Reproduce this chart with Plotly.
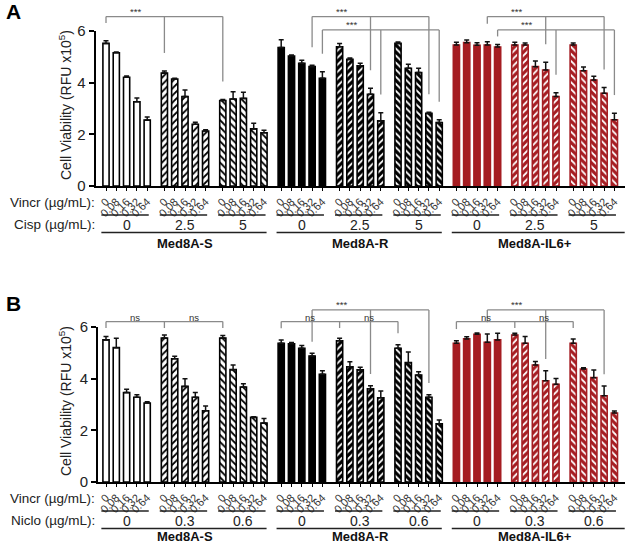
import plotly.graph_objects as go

W, H = 626, 545

# ---------------- data ----------------
vincr = ["0", "0.08", "0.16", "0.32", "0.64"]
cisp = ["0", "2.5", "5"]
niclo = ["0", "0.3", "0.6"]
cell_lines = ["Med8A-S", "Med8A-R", "Med8A-IL6+"]

# Panel A (Vincr x Cisp), 3 cisp groups x 5 vincr doses per cell line
a_s = [5.52, 5.16, 4.21, 3.26, 2.55, 4.37, 4.14, 3.46, 2.39, 2.13, 3.31, 3.37, 3.39, 2.21, 2.06]
a_s_err = [0.10, 0.03, 0.05, 0.15, 0.12, 0.08, 0.03, 0.26, 0.08, 0.05, 0.04, 0.28, 0.24, 0.22, 0.10]
a_r = [5.36, 5.03, 4.75, 4.62, 4.17, 5.39, 4.90, 4.65, 3.55, 2.52, 5.52, 4.56, 4.39, 2.81, 2.46]
a_r_err = [0.30, 0.04, 0.12, 0.05, 0.25, 0.13, 0.05, 0.10, 0.23, 0.32, 0.05, 0.15, 0.17, 0.04, 0.10]
a_il6 = [5.46, 5.55, 5.45, 5.46, 5.38, 5.46, 5.46, 4.62, 4.49, 3.46, 5.46, 4.46, 4.10, 3.59, 2.56]
a_il6_err = [0.10, 0.10, 0.10, 0.12, 0.10, 0.10, 0.08, 0.22, 0.30, 0.15, 0.08, 0.15, 0.15, 0.22, 0.26]

# Panel B (Vincr x Niclo)
b_s = [5.50, 5.20, 3.46, 3.28, 3.06, 5.57, 4.77, 3.70, 3.28, 2.76, 5.57, 4.35, 3.68, 2.50, 2.28]
b_s_err = [0.13, 0.36, 0.13, 0.10, 0.05, 0.12, 0.10, 0.30, 0.18, 0.18, 0.10, 0.18, 0.12, 0.03, 0.18]
b_r = [5.37, 5.35, 5.18, 4.88, 4.17, 5.47, 4.46, 4.34, 3.61, 3.26, 5.18, 4.62, 4.14, 3.28, 2.25]
b_r_err = [0.13, 0.05, 0.10, 0.10, 0.14, 0.09, 0.19, 0.10, 0.12, 0.26, 0.13, 0.41, 0.13, 0.10, 0.15]
b_il6 = [5.37, 5.54, 5.72, 5.41, 5.50, 5.69, 5.37, 4.53, 3.92, 3.78, 5.37, 4.37, 4.04, 3.34, 2.67]
b_il6_err = [0.10, 0.08, 0.05, 0.32, 0.26, 0.07, 0.26, 0.13, 0.39, 0.23, 0.17, 0.05, 0.30, 0.38, 0.08]

# significance brackets: (cell line index, vincr dose index, bracket level, labels between legs)
sig_a = [(0, 0, 6.56, ["***", None]), (1, 3, 6.56, ["***", None]), (1, 4, 6.04, ["***", None]),
         (2, 3, 6.56, ["***", None]), (2, 4, 6.04, ["***", None])]
sig_b = [(0, 0, 6.21, ["ns", "ns"]), (1, 0, 6.21, ["ns", "ns"]), (1, 3, 6.66, ["***", None]),
         (2, 0, 6.21, ["ns", "ns"]), (2, 3, 6.66, ["***", None])]

# ---------------- styling ----------------
RED = "#A51D22"
FONT = "Arial, Liberation Sans, sans-serif"
styles = [dict(bg="white", fg="black", line="black"),
          dict(bg="black", fg="white", line="black"),
          dict(bg=RED, fg="white", line=RED)]
hatch = ["", "/", "\\"]

PX0, UNIT, GSTEP = 106.0, 10.3, 5.67


def pos(g, i):
    return g * GSTEP + i


panels = [
    dict(name="A", x0px=95.5, base=186, top=31, xa="x", ya="y",
         vals=[a_s, a_r, a_il6], errs=[a_s_err, a_r_err, a_il6_err],
         second=cisp, second_label="Cisp (µg/mL):", sig=sig_a, gap=0.7),
    dict(name="B", x0px=98, base=482, top=327, xa="x2", ya="y2",
         vals=[b_s, b_r, b_il6], errs=[b_s_err, b_r_err, b_il6_err],
         second=niclo, second_label="Niclo (µg/mL):", sig=sig_b, gap=0.45),
]
XEND = 625.0
YMAX = 6.0

fig = go.Figure()
shapes = []
annots = []
layout_axes = {}


def ppx(px):
    return px / W


def ppy(py):
    return 1 - py / H


for k, p in enumerate(panels):
    xr = [(p["x0px"] - PX0) / UNIT, (XEND - PX0) / UNIT]
    xd = [p["x0px"] / W, XEND / W]
    yd = [1 - p["base"] / H, 1 - p["top"] / H]

    def xp(v, xr=xr, xd=xd):
        return xd[0] + (v - xr[0]) / (xr[1] - xr[0]) * (xd[1] - xd[0])

    def yp(v, yd=yd):
        return yd[0] + v / YMAX * (yd[1] - yd[0])

    tickvals, ticktext = [], []
    for ci in range(3):
        st = styles[ci]
        for t in range(3):
            g = ci * 3 + t
            xs = [pos(g, i) for i in range(5)]
            ys = p["vals"][ci][t * 5:(t + 1) * 5]
            es = p["errs"][ci][t * 5:(t + 1) * 5]
            tickvals += xs
            ticktext += vincr
            fig.add_trace(go.Bar(
                x=xs, y=ys, width=0.6, xaxis=p["xa"], yaxis=p["ya"],
                marker=dict(color=st["bg"], line=dict(color=st["line"], width=1.6),
                            pattern=dict(shape=hatch[t], fgcolor=st["fg"], bgcolor=st["bg"],
                                         size=5, solidity=0.35, fillmode="replace")),
                error_y=dict(type="data", array=es, arrayminus=[0] * 5, symmetric=False,
                             color="#111", thickness=1.5, width=2.5),
                hoverinfo="skip", showlegend=False))
            # group underline and second-drug dose label
            yl = p["base"] + 29
            shapes.append(dict(type="line", xref="paper", yref="paper",
                               x0=xp(pos(g, 0) - 0.45), x1=xp(pos(g, 4) + 0.15),
                               y0=ppy(yl), y1=ppy(yl), line=dict(color="#222", width=1.3)))
            annots.append(dict(xref="paper", yref="paper", x=xp(pos(g, 2)), y=ppy(p["base"] + 38.5),
                               text=p["second"][t], showarrow=False, xanchor="center", yanchor="middle",
                               font=dict(family=FONT, size=14, color="#222")))
        # cell line underline and name
        yl = p["base"] + 46.5
        ext = 1.0 if ci == 2 else 0.25
        shapes.append(dict(type="line", xref="paper", yref="paper",
                           x0=xp(pos(ci * 3, 0) - 0.45), x1=xp(pos(ci * 3 + 2, 4) + ext),
                           y0=ppy(yl), y1=ppy(yl), line=dict(color="#222", width=1.3)))
        annots.append(dict(xref="paper", yref="paper", x=xp(pos(ci * 3 + 1, 2)),
                           y=ppy(min(p["base"] + 57, 536.5)),
                           text="<b>" + cell_lines[ci] + "</b>", showarrow=False,
                           xanchor="center", yanchor="middle",
                           font=dict(family=FONT, size=13, color="#111")))

    # row labels
    annots.append(dict(xref="paper", yref="paper", x=ppx(97), y=ppy(p["base"] + 16),
                       text="Vincr (µg/mL):", showarrow=False, xanchor="right", yanchor="middle",
                       font=dict(family=FONT, size=13.5, color="#222")))
    annots.append(dict(xref="paper", yref="paper", x=ppx(97), y=ppy(p["base"] + 38.5),
                       text=p["second_label"], showarrow=False, xanchor="right", yanchor="middle",
                       font=dict(family=FONT, size=13.5, color="#222")))
    # y title
    annots.append(dict(xref="paper", yref="paper", x=ppx(65), y=ppy(p["base"] - 81),
                       text="Cell Viability (RFU x10<sup>5</sup>)", showarrow=False, textangle=-90,
                       xanchor="center", yanchor="middle",
                       font=dict(family=FONT, size=14, color="#222")))
    # panel letter
    annots.append(dict(xref="paper", yref="paper", x=ppx(4), y=ppy(11 if k == 0 else 303),
                       text="<b>" + p["name"] + "</b>", showarrow=False, xanchor="left", yanchor="middle",
                       font=dict(family=FONT, size=21, color="black")))

    # significance brackets
    for (ci, d, lev, labels) in p["sig"]:
        legs = []
        for t in range(3):
            g = ci * 3 + t
            v = p["vals"][ci][t * 5 + d] + p["errs"][ci][t * 5 + d]
            legs.append((pos(g, d), min(v + p["gap"], lev - 0.25)))
        lc = dict(color="#8a8a8a", width=1.3)
        shapes.append(dict(type="line", xref="paper", yref="paper", x0=xp(legs[0][0]), x1=xp(legs[2][0]),
                           y0=yp(lev), y1=yp(lev), line=lc))
        for (lx, ly) in legs:
            shapes.append(dict(type="line", xref="paper", yref="paper", x0=xp(lx), x1=xp(lx),
                               y0=yp(lev), y1=yp(ly), line=lc))
        for j, lab in enumerate(labels):
            if lab is None:
                continue
            mx = (legs[j][0] + legs[j + 1][0]) / 2
            annots.append(dict(xref="paper", yref="paper", x=xp(mx), y=yp(lev),
                               text=lab, showarrow=False, xanchor="center", yanchor="bottom",
                               yshift=-3 if lab == "ns" else -2,
                               font=dict(family=FONT, size=9.5 if lab == "ns" else 9.5, color="#333")))

    sfx = "" if k == 0 else "2"
    layout_axes["xaxis" + sfx] = dict(
        domain=xd, range=xr, anchor="y" + sfx, tickmode="array", tickvals=tickvals, ticktext=ticktext,
        tickangle=-45, tickfont=dict(family=FONT, size=11, color="#333"),
        ticks="outside", ticklen=3, tickwidth=1.2, tickcolor="black", automargin=False,
        showline=True, linecolor="black", linewidth=2, showgrid=False, zeroline=False, fixedrange=True)
    layout_axes["yaxis" + sfx] = dict(
        domain=yd, range=[0, YMAX], anchor="x" + sfx, tickmode="array", tickvals=[0, 2, 4, 6],
        tickfont=dict(family=FONT, size=15, color="#222"), automargin=False,
        ticks="outside", ticklen=5, tickwidth=1.5, tickcolor="black",
        showline=True, linecolor="black", linewidth=2, showgrid=False, zeroline=False, fixedrange=True)

fig.update_layout(
    width=W, height=H, margin=dict(l=0, r=0, t=0, b=0, pad=0, autoexpand=False),
    paper_bgcolor="white", plot_bgcolor="white",
    barmode="overlay", showlegend=False,
    shapes=shapes, annotations=annots, font=dict(family=FONT),
    **layout_axes)

fig.write_html("out.html", config={"displayModeBar": False},
               post_script="document.body.style.margin='0px';document.body.style.padding='0px';"
                           "document.documentElement.style.overflow='hidden';")
